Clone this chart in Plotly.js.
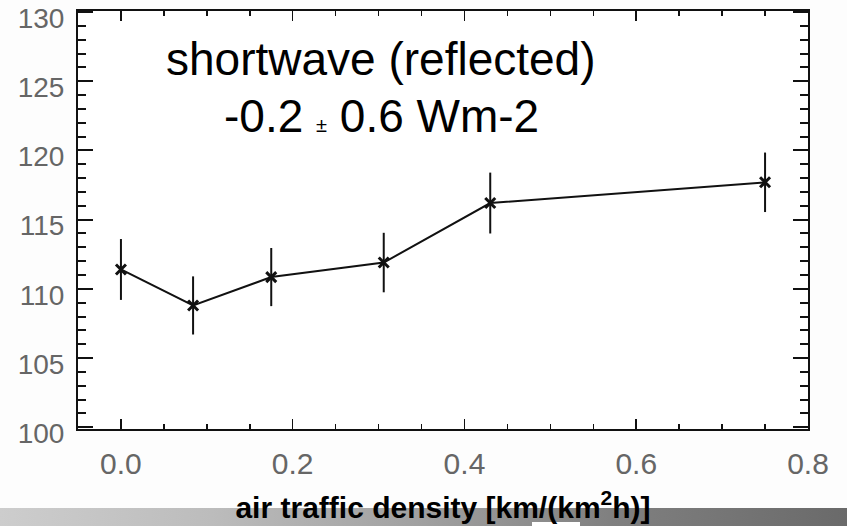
<!DOCTYPE html>
<html>
<head>
<meta charset="utf-8">
<script src="https://cdn.plot.ly/plotly-3.0.1.min.js"></script>
<style>
  html, body { margin: 0; padding: 0; background: #fdfdfd; }
  #chart { width: 847px; height: 526px; }
</style>
</head>
<body>
<div id="chart"></div>
<script>
// ---- data ----
const airTrafficDensity = [0.0, 0.084, 0.175, 0.306, 0.43, 0.75];
const shortwaveReflected = [111.4, 108.8, 110.85, 111.9, 116.2, 117.7];
const shortwaveError = [2.2, 2.1, 2.1, 2.15, 2.2, 2.15];
const xTickValues = [0, 0.2, 0.4, 0.6, 0.8];
const xTickLabels = ['0.0', '0.2', '0.4', '0.6', '0.8'];
const yTickValues = [100, 105, 110, 115, 120, 125, 130];
const yTickLabels = ['100', '105', '110', '115', '120', '125', '130'];
const annotationLine1 = 'shortwave (reflected)';
const annotationLine2 = '-0.2 <span style="font-size:20px">±</span> 0.6 Wm-2';
const xAxisTitle = '<b>air traffic density [km/(km<sup>2</sup>h)]</b>';

const trace = {
  x: airTrafficDensity,
  y: shortwaveReflected,
  type: 'scatter',
  mode: 'lines+markers',
  line: { color: '#111', width: 2 },
  marker: { symbol: 'x-thin-open', size: 10, color: '#111', line: { color: '#111', width: 3 } },
  error_y: { type: 'data', array: shortwaveError, visible: true, color: '#111', thickness: 2, width: 0 },
  hoverinfo: 'skip'
};

const bandSvg = '<svg xmlns="http://www.w3.org/2000/svg" width="847" height="18" preserveAspectRatio="none">' +
  '<defs><linearGradient id="g" x1="0" y1="0" x2="1" y2="0">' +
  '<stop offset="0" stop-color="#cdcdcd"/><stop offset="0.25" stop-color="#bcbcbc"/>' +
  '<stop offset="0.5" stop-color="#a0a0a0"/><stop offset="0.72" stop-color="#808080"/>' +
  '<stop offset="1" stop-color="#6a6a6a"/></linearGradient></defs>' +
  '<rect width="847" height="18" fill="url(#g)"/></svg>';
const bandUri = 'data:image/svg+xml;charset=utf-8,' + encodeURIComponent(bandSvg);

const plotLeft = 78, plotRight = 808, plotTop = 11, plotBottom = 429;
const pw = plotRight - plotLeft, ph = plotBottom - plotTop;
function px(xp) { return (xp - plotLeft) / pw; }
function py(yp) { return (plotBottom - yp) / ph; }

const layout = {
  width: 847,
  height: 526,
  margin: { l: plotLeft, r: 847 - plotRight, t: plotTop, b: 526 - plotBottom, pad: 0 },
  paper_bgcolor: '#fdfdfd',
  plot_bgcolor: '#ffffff',
  showlegend: false,
  font: { family: 'Liberation Sans, Arial, sans-serif', color: '#000' },
  xaxis: {
    range: [-0.05, 0.8],
    tickmode: 'array',
    tickvals: xTickValues,
    ticktext: xTickLabels,
    ticks: 'inside',
    ticklen: 10,
    tickwidth: 1.5,
    tickcolor: '#111',
    minor: { dtick: 0.05, ticks: 'inside', ticklen: 5, tickwidth: 1.5, tickcolor: '#111', showgrid: false },
    showline: true,
    linecolor: '#111',
    linewidth: 2,
    mirror: 'ticks',
    showgrid: false,
    zeroline: false,
    ticklabeloverflow: 'allow',
    ticklabelstandoff: 7,
    tickfont: { size: 30, color: '#666', family: 'Liberation Sans, Arial, sans-serif' },
    title: { text: xAxisTitle, font: { size: 30, color: '#000', family: 'Liberation Sans, Arial, sans-serif' }, standoff: 18 }
  },
  yaxis: {
    range: [99.87, 130.08],
    tickmode: 'array',
    tickvals: yTickValues,
    ticktext: yTickLabels,
    ticks: 'inside',
    ticklen: 15,
    tickwidth: 2,
    tickcolor: '#111',
    minor: { dtick: 1, ticks: 'inside', ticklen: 8, tickwidth: 2, tickcolor: '#111', showgrid: false },
    showline: true,
    linecolor: '#111',
    linewidth: 2,
    mirror: 'ticks',
    showgrid: false,
    zeroline: false,
    ticklabeloverflow: 'allow',
    ticklabelstandoff: 6,
    ticklabelshift: 6,
    tickfont: { size: 28, color: '#666', family: 'Liberation Sans, Arial, sans-serif' }
  },
  annotations: [
    { text: annotationLine1, xref: 'paper', yref: 'paper', x: px(381), y: py(59),
      xanchor: 'center', yanchor: 'middle', showarrow: false,
      font: { size: 46, color: '#000', family: 'Liberation Sans, Arial, sans-serif' } },
    { text: annotationLine2, xref: 'paper', yref: 'paper', x: px(381), y: py(116),
      xanchor: 'center', yanchor: 'middle', showarrow: false,
      font: { size: 46, color: '#000', family: 'Liberation Sans, Arial, sans-serif' } }
  ],
  images: [
    { source: bandUri, xref: 'paper', yref: 'paper', x: px(0), y: py(508),
      sizex: 847 / pw, sizey: 18 / ph, sizing: 'stretch', xanchor: 'left', yanchor: 'top', layer: 'below' }
  ],
  shapes: [
    { type: 'rect', xref: 'paper', yref: 'paper', x0: px(532), x1: px(580), y0: py(522), y1: py(526),
      fillcolor: '#ffffff', line: { width: 0 }, layer: 'below' }
  ]
};

Plotly.newPlot('chart', [trace], layout, { staticPlot: true, displayModeBar: false });
</script>
</body>
</html>
